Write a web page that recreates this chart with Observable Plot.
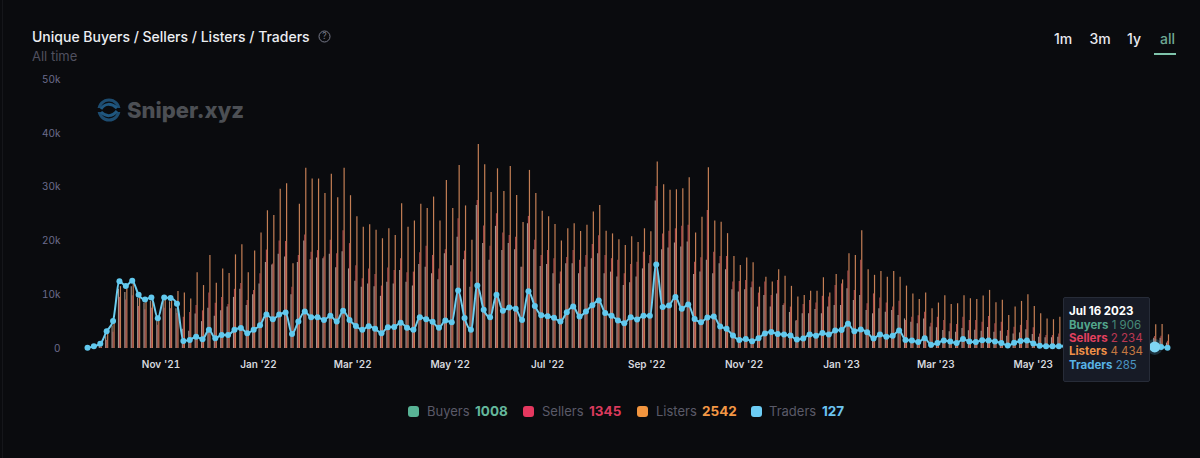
<!DOCTYPE html>
<html><head><meta charset="utf-8">
<script src="https://cdn.jsdelivr.net/npm/d3@7"></script>
<script src="https://cdn.jsdelivr.net/npm/@observablehq/plot@0.6"></script>
<style>
html,body{margin:0;padding:0;background:#0a0b0e;width:1200px;height:458px;overflow:hidden;font-family:Inter,sans-serif}
#page{position:relative;width:1200px;height:458px}
.abs{position:absolute;white-space:nowrap}
#chart{position:absolute;left:0;top:70px}
#legend span{position:absolute;top:403px;font-size:13px;line-height:16px;white-space:nowrap}
#legend i{position:absolute;top:406px;width:11px;height:11px;border-radius:3px}
#legend b{position:absolute;top:403px;font-size:13.5px;line-height:16px;font-weight:700}
#tip{position:absolute;left:1063px;top:297px;width:85px;height:83px;background:#171b26;border:1px solid #272c38;border-radius:2px;font-size:11.5px;line-height:13.2px;box-sizing:content-box}
#tip div{position:absolute;left:5px;white-space:nowrap}
</style></head><body>
<div id="page">
<div class="abs" style="left:2px;top:0;width:1px;height:458px;background:#15161a"></div>
<div class="abs" style="left:32px;top:28px;font-size:14px;line-height:18px;color:#eceef2;font-weight:500">Unique Buyers / Sellers / Listers / Traders</div>
<svg class="abs" style="left:318px;top:30px" width="13" height="13" viewBox="0 0 13 13"><circle cx="6.5" cy="6.5" r="5.5" fill="none" stroke="#777a8a" stroke-width="1"/><text x="6.5" y="9.4" text-anchor="middle" font-size="8.5" fill="#777a8a" font-family="Inter">?</text></svg>
<div class="abs" style="left:32px;top:48px;font-size:13px;line-height:16px;color:#50505f">All time</div>
<div class="abs" style="left:1054px;top:31px;font-size:14px;line-height:16px;color:#e8e8ee;font-weight:500">1m</div>
<div class="abs" style="left:1089.5px;top:31px;font-size:14px;line-height:16px;color:#e8e8ee;font-weight:500">3m</div>
<div class="abs" style="left:1127px;top:31px;font-size:14px;line-height:16px;color:#e8e8ee;font-weight:500">1y</div>
<div class="abs" style="left:1160px;top:31px;font-size:14px;line-height:16px;color:#6fa893;font-weight:500">all</div>
<div class="abs" style="left:1154px;top:53px;width:22px;height:2px;background:#7fc4ab"></div>
<div id="chart"></div>
<svg class="abs" style="left:97px;top:98px" width="24" height="24" viewBox="0 0 24 24"><circle cx="12" cy="12" r="10" fill="none" stroke="#1d4c70" stroke-width="3"/><path d="M0 12H24" stroke="#0a0b0e" stroke-width="4"/><path d="M4 11C8 5 14 5 20 10M4 14C9 19 15 19 20 13" fill="none" stroke="#1f5780" stroke-width="3"/></svg>
<div class="abs" style="left:127px;top:96px;font-size:22px;line-height:28px;font-weight:800;color:#4c4f54;font-family:Inter">Sniper.xyz</div>
<div id="legend"></div>
<div id="tip"></div>
</div>
<script>
const startDate = new Date(Date.UTC(2021, 8, 16));
const stepDays = 4;
const tickDates = ["2021-11-01","2022-01-01","2022-03-01","2022-05-01","2022-07-01","2022-09-01","2022-11-01","2023-01-01","2023-03-01","2023-05-01"];
const yTicks = [0,10000,20000,30000,40000,50000];

const listers = [
0,120,300,2700,5000,11500,11000,12000,9700,8900,
9200,5200,9200,9200,10600,10300,9200,14100,11700,17300,
12150,14800,13950,17400,19300,14100,18100,21450,25600,24700,
29600,30600,15750,26800,33500,31500,31500,28800,32400,28000,
33500,28400,24500,22550,23000,22000,20400,22250,21000,26900,
22550,23700,26800,26000,28150,23700,31250,26000,34000,26500,
20100,37900,34150,29000,33400,29200,33850,28450,23400,33100,
28800,25500,24500,23050,20000,22250,23200,21750,22900,25350,
26600,21800,21300,20200,19150,20750,19700,22250,21700,34650,
30450,29400,29500,29700,31750,21450,24400,33600,23700,23450,
21350,17100,15450,16800,15950,11400,13250,12350,14650,13450,
11550,9550,9850,10650,10650,13150,10300,13750,12750,17600,
17300,21900,14650,13600,14300,13250,14300,13250,11600,10150,
9100,10300,7400,8450,9800,8200,8300,9800,9250,9100,
9750,10800,8500,8950,6150,7700,8750,10000,7800,6450,
5500,5350,5800,5400,5000,5600,5000,4800,5200,4700,
4500,5000,4600,4200,4700,4400,4300,4434,4450,2542];

const sellers = [
0,80,250,1500,3000,9500,9000,9800,7800,7200,
7500,4300,7500,7400,6500,5800,6700,8000,7000,10300,
8400,9500,8200,11000,12100,8900,10800,13900,18300,15700,
20000,19900,11400,17300,21100,17900,18200,17000,20100,17600,
21900,19500,15400,12950,14800,13750,11600,14950,14500,16700,
14100,14200,17800,19000,17300,14800,18350,15400,24100,18100,
14200,27500,22750,19000,25050,21450,21000,20700,15100,24550,
20100,17300,18200,16700,14200,16900,18200,16400,17300,19350,
20950,17300,16700,16400,13900,15600,16050,17900,17300,30100,
21300,21800,22250,22700,22900,16050,16850,25650,17900,17100,
17100,12350,12450,12650,12350,10300,12350,9850,12650,8300,
7700,5200,8200,8900,8450,9700,9550,11700,12000,14400,
10800,16400,8300,10150,9400,8450,7700,8800,5200,5800,
6100,6750,4700,5800,5200,4600,4450,5800,5200,5200,
4900,5950,4600,4900,3350,3950,4300,5200,3850,2700,
2400,2400,2700,2500,2400,2600,2400,2300,2500,2300,
2200,2400,2300,2100,2300,2200,2200,2234,2300,1345];

const buyers = [
0,100,350,2200,4200,11000,10400,11500,9300,8400,
8800,5000,8800,8700,7400,3600,3200,6400,5000,7500,
6000,7000,7700,9500,11000,8000,10000,12000,16000,15500,
17500,17000,10000,16000,20000,16500,16800,16700,17500,15000,
18000,14800,12500,11400,12000,11500,9700,12300,12000,14500,
12300,11600,15600,15100,13900,12800,17600,15400,20700,16500,
11400,26600,19500,16400,22700,18200,19500,18350,15100,23200,
18350,15250,15600,13900,12000,15750,15750,13900,15100,16700,
17600,13900,14200,13300,11700,12200,13300,14800,15750,27400,
18350,18700,19600,18850,19800,13750,14200,16400,13900,15750,
14650,10900,10500,10900,11300,7700,9850,7700,10150,8000,
6700,5100,6450,6450,7250,6450,7700,8000,8000,11100,
8900,9850,7050,6450,7400,6750,7050,6150,5500,4900,
4600,5500,4000,3850,3350,3100,3000,3700,3300,3400,
3200,3900,3000,3200,2300,2700,2900,3500,2600,2100,
2000,2000,2100,2000,1900,2050,1950,1900,2000,1900,
1850,2000,1900,1800,1950,1900,1850,1906,1900,1008];

const traders = [
150,400,870,3200,5100,12500,11600,12600,10000,9100,
9500,5600,9500,9400,8300,1400,1600,2200,1700,3500,
1900,2500,2500,3500,3800,2850,3500,4300,6300,5450,
6300,6700,2700,5000,6900,5800,5800,5300,6100,5000,
7000,5300,4200,3500,4150,3650,2850,3950,4000,4800,
3850,3500,5800,5450,4950,3850,5200,4900,10800,5650,
3500,11700,7200,5800,10000,7000,7600,7400,5300,10650,
7900,6200,6000,5700,5000,6750,7800,5950,6900,8050,
8900,6600,6100,5200,4700,5800,5400,6100,6100,15600,
7700,8000,9550,7400,8200,5500,4900,5750,5950,4100,
3650,2400,1600,1750,1350,1900,2800,3050,2700,2600,
2400,1650,1850,2600,2350,2900,2600,3350,3450,4600,
3200,3550,3000,1850,2600,2200,2350,3350,1600,1500,
1200,1900,700,1000,1500,1300,1000,1750,1300,1200,
1550,1500,1300,1000,550,1050,1400,1500,950,500,
430,430,430,420,410,400,420,390,380,400,
370,360,350,340,330,320,300,285,260,127];

const highlightIndex = 167;
const data = traders.map((t,i)=>({date:d3.utcDay.offset(startDate,i*stepDays),buyers:buyers[i],sellers:sellers[i],listers:listers[i],traders:t}));

const chart = Plot.plot({
  width:1200,height:310,marginLeft:87,marginRight:33,marginTop:9,marginBottom:32,
  style:{background:"transparent",fontFamily:"Inter, sans-serif",overflow:"visible"},
  x:{type:"utc",domain:[data[0].date,data[data.length-1].date]},
  y:{domain:[0,50000]},
  marks:[
    Plot.ruleX(data,{x:"date",y1:0,y2:"listers",stroke:"#c47f55",strokeWidth:1.2,dx:1}),
    Plot.ruleX(data,{x:"date",y1:0,y2:"sellers",stroke:"#b0504f",strokeWidth:1.2}),
    Plot.ruleX(data,{x:"date",y1:0,y2:"buyers",stroke:"#a8968c",strokeWidth:1.1,dx:-1}),
    Plot.axisY({ticks:yTicks,tickSize:0,tickPadding:27,fontSize:10,tickFormat:d=>d===0?"0":d/1000+"k",stroke:"none",fill:"#6c6c8c",label:null}),
    Plot.axisX({ticks:tickDates.map(d=>new Date(d)),tickSize:0,tickPadding:12,fontSize:10,fontWeight:600,tickFormat:d3.utcFormat("%b '%y"),fill:"#d6d8de",label:null}),
    Plot.dot(data.filter((d,i)=>i===highlightIndex),{x:"date",y:"traders",r:8,fill:"#5fc8ef",fillOpacity:0.2}),
    Plot.line(data,{x:"date",y:"traders",stroke:"#6ccdf0",strokeWidth:2,curve:"monotone-x"}),
    Plot.dot(data,{x:"date",y:"traders",r:3,fill:"#62c9ee"}),
    Plot.dot(data.filter((d,i)=>i===highlightIndex),{x:"date",y:"traders",r:5.5,fill:"#7fd6f5"})
  ]
});
document.getElementById("chart").append(chart);

const legendItems = [
  ["Buyers",1008,"#58b395","#64b79c",408,427,475],
  ["Sellers",1345,"#e5385f","#d93a5c",523,542,589],
  ["Listers",2542,"#f2953f","#f39745",637,656,702],
  ["Traders",127,"#6dcdf5","#6cc4f0",751,769,822]
];
const lg=document.getElementById("legend");
for(const [n,v,c,vc,a,b,e] of legendItems){
  lg.insertAdjacentHTML("beforeend",`<i style="left:${a}px;background:${c}"></i><span style="left:${b}px;color:#5a5a68">${n}</span><b style="left:${e}px;color:${vc}">${v}</b>`);
}
const h=data[highlightIndex];
const tipRows=[["Buyers",h.buyers,"#52a58c"],["Sellers",h.sellers,"#e2405f"],["Listers",h.listers,"#ef9148"],["Traders",h.traders,"#58b3e6"]];
const fmt=n=>String(n).replace(/\B(?=(\d{3})+$)/g," ");
const tip=document.getElementById("tip");
tip.insertAdjacentHTML("beforeend",`<div style="top:7px;color:#fff;font-weight:700">${d3.utcFormat("%b %-d %Y")(h.date)}</div>`);
tipRows.forEach(([n,v,c],i)=>tip.insertAdjacentHTML("beforeend",`<div style="top:${20.5+i*13.4}px;color:${c}"><span style="font-weight:700">${n}</span> <span style="opacity:.8">${fmt(v)}</span></div>`));
</script>
</body></html>
